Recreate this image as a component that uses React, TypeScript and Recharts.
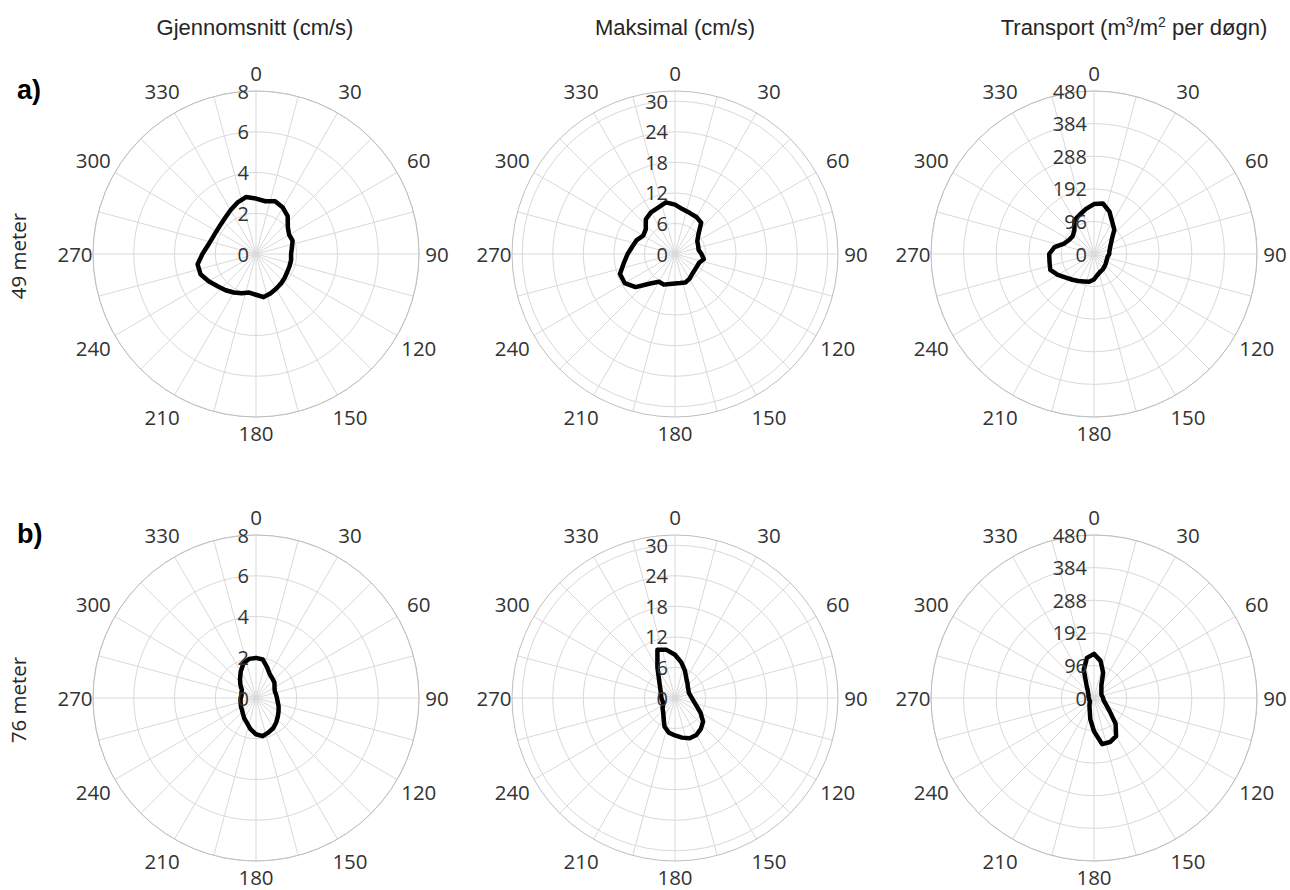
import { PolarAngleAxis, PolarGrid, PolarRadiusAxis, Radar, RadarChart } from "recharts";

// bearings (deg clockwise from north) the roses were read at
const DIRECTIONS = [
  0, 10, 20, 30, 40, 50, 60, 70, 80, 90, 100, 110, 120, 130, 140, 150, 160, 170,
  180, 190, 200, 210, 220, 230, 240, 250, 260, 270, 280, 290, 300, 310, 320, 330, 340, 350,
];

// grid spokes every 15 deg, labels only every 30
const SPOKES = [0, 15, 30, 45, 60, 75, 90, 105, 120, 135, 150, 165, 180, 195, 210, 225, 240, 255, 270, 285, 300, 315, 330, 345];

// 49 meter
const AVG_49 = [
  2.72, 2.63, 2.75, 2.63, 2.42, 2.04, 1.88, 1.91, 1.79, 1.72, 1.75, 1.75, 1.77, 1.83, 1.9, 1.97, 2.06, 2.15,
  2.0, 1.92, 2.05, 2.18, 2.32, 2.46, 2.68, 2.9, 2.91, 2.63, 2.4, 2.28, 2.24, 2.26, 2.34, 2.49, 2.68, 2.84,
];
const MAX_49 = [
  9.7, 8.9, 8.55, 8.4, 8.0, 6.0, 5.05, 4.83, 4.7, 5.2, 5.75, 5.05, 4.95, 5.0, 5.2, 5.65, 5.95, 5.8,
  5.8, 6.0, 6.4, 6.3, 7.55, 10.1, 11.4, 11.5, 10.2, 9.3, 8.5, 8.0, 7.2, 7.5, 8.9, 9.45, 9.7, 10.3,
];
const TRANSPORT_49 = [
  147, 151, 133, 108, 93, 69, 57, 50, 46, 45, 41, 41, 42, 45, 48, 52, 55, 62,
  75, 83, 86, 92, 99, 108, 123, 137, 133, 132, 118, 92, 84, 82, 90, 115, 123, 135,
];

// 76 meter
const AVG_76 = [
  1.97, 1.92, 1.6, 1.35, 1.25, 1.18, 1.05, 0.98, 1.0, 1.03, 1.08, 1.18, 1.28, 1.4, 1.55, 1.7, 1.8, 1.9,
  1.78, 1.55, 1.3, 1.15, 1.0, 0.9, 0.85, 0.8, 0.77, 0.75, 0.72, 0.76, 0.8, 1.0, 1.22, 1.5, 1.8, 1.95,
];
const MAX_76 = [
  8.5, 7.1, 5.7, 4.45, 3.8, 3.3, 3.05, 2.9, 3.05, 3.3, 3.75, 4.5, 5.8, 7.2, 7.9, 8.4, 8.4, 7.9,
  7.35, 6.9, 6.0, 4.5, 3.6, 3.2, 2.7, 2.5, 2.55, 2.67, 2.77, 2.97, 3.3, 3.9, 4.9, 6.9, 10.1, 9.6,
];
const TRANSPORT_76 = [
  130, 111, 79, 43.5, 34, 28.4, 25, 24, 25, 27, 28, 33, 42, 60, 99, 130, 138, 138,
  98, 63, 37, 27, 20, 15.4, 15, 15, 15, 15, 16, 17.5, 18.7, 23, 28.4, 44.3, 88, 120,
];

const AVG_TICKS = [0, 2, 4, 6, 8];
const MAX_TICKS = [0, 6, 12, 18, 24, 30];
const TRANSPORT_TICKS = [0, 96, 192, 288, 384, 480];
const AVG_MAX = 8;
const MAX_MAX = 31.7;
const TRANSPORT_MAX = 480;

const ROWS = [
  { tag: "a)", depth: "49 meter", series: [AVG_49, MAX_49, TRANSPORT_49] },
  { tag: "b)", depth: "76 meter", series: [AVG_76, MAX_76, TRANSPORT_76] },
];
const COLUMNS = [
  { ticks: AVG_TICKS, max: AVG_MAX },
  { ticks: MAX_TICKS, max: MAX_MAX },
  { ticks: TRANSPORT_TICKS, max: TRANSPORT_MAX },
];

const W = 420;
const H = 440;
const CX = 210;
const CY = 220;
const R = 163;
const TICK_GAP = 10;
const COL_X = [255.5, 674.5, 1093.5];
const ROW_Y = [253.5, 698];

const NUM_FONT = "'Open Sans', 'DejaVu Sans', sans-serif";
const TITLE_FONT = "'Liberation Sans', Arial, sans-serif";
const GRID = "#d9d9d9";
const OUTER = "#bfbfbf";
const TEXT = "#333";

function AngleTick(props: any) {
  const { x, y, payload } = props;
  const deg = Number(payload.value);
  if (deg % 30 !== 0) return <g />;
  const rad = (deg * Math.PI) / 180;
  const ux = Math.sin(rad);
  const uy = -Math.cos(rad);
  // back out the centre from the tick point, then push diagonal labels out a bit
  const cx = x - ux * (R + TICK_GAP);
  const cy = y - uy * (R + TICK_GAP);
  const d = 181 + 8 * Math.abs(Math.sin(2 * rad)) - (deg === 180 ? 2 : 0);
  return (
    <text
      x={cx + ux * d}
      y={cy + uy * d}
      textAnchor="middle"
      dominantBaseline="central"
      fontFamily={NUM_FONT}
      fontSize={20.5}
      fill={TEXT}
    >
      {deg}
    </text>
  );
}

function RadiusTick(props: any) {
  const { x, y, payload } = props;
  return (
    <text x={x - 7} y={y} textAnchor="end" dominantBaseline="central" fontFamily={NUM_FONT} fontSize={20} fill={TEXT}>
      {payload.value}
    </text>
  );
}

function Rose({ values, ticks, max }: { values: number[]; ticks: number[]; max: number }) {
  const data = DIRECTIONS.map((dir, i) => ({ dir, v: values[i] }));
  return (
    <RadarChart width={W} height={H} cx={CX} cy={CY} outerRadius={R} data={data} margin={{ top: 0, right: 0, bottom: 0, left: 0 }}>
      <PolarGrid gridType="circle" stroke={GRID} polarAngles={SPOKES.map((b) => 90 - b)} />
      <PolarAngleAxis
        dataKey="dir"
        tick={(p: any) => <AngleTick {...p} />}
        tickLine={false}
        tickSize={TICK_GAP}
        axisLine={{ stroke: OUTER }}
        axisLineType="circle"
      />
      <PolarRadiusAxis
        angle={90}
        type="number"
        domain={[0, max]}
        ticks={ticks}
        tick={(p: any) => <RadiusTick {...p} />}
        axisLine={false}
        tickLine={false}
      />
      <Radar
        dataKey="v"
        stroke="#000"
        strokeWidth={4.5}
        strokeLinejoin="round"
        fill="none"
        fillOpacity={0}
        dot={false}
        isAnimationActive={false}
      />
    </RadarChart>
  );
}

const titleStyle = (x: number): React.CSSProperties => ({
  position: "absolute",
  left: x,
  top: 28,
  transform: "translate(-50%, -50%)",
  whiteSpace: "nowrap",
  fontFamily: TITLE_FONT,
  fontSize: 22,
  lineHeight: 1,
  color: "#262626",
});
const SUP: React.CSSProperties = { fontSize: 14, verticalAlign: "super", lineHeight: 0 };

export default function App() {
  return (
    <div style={{ position: "absolute", left: 0, top: 0, width: 1290, height: 890, background: "#fff", overflow: "hidden" }}>
      <div style={titleStyle(255)}>Gjennomsnitt (cm/s)</div>
      <div style={titleStyle(675)}>Maksimal (cm/s)</div>
      <div style={titleStyle(1134)}>
        Transport (m<sup style={SUP}>3</sup>/m<sup style={SUP}>2</sup> per døgn)
      </div>

      {ROWS.map((row, r) => (
        <div key={row.tag}>
          <div
            style={{
              position: "absolute",
              left: 17,
              top: ROW_Y[r] - 164,
              transform: "translateY(-50%)",
              fontFamily: TITLE_FONT,
              fontWeight: 700,
              fontSize: 27,
              lineHeight: 1,
              color: "#000",
            }}
          >
            {row.tag}
          </div>
          <div
            style={{
              position: "absolute",
              left: 18,
              top: ROW_Y[r] + 2,
              transform: "translate(-50%, -50%) rotate(-90deg)",
              whiteSpace: "nowrap",
              fontFamily: NUM_FONT,
              fontSize: 20.5,
              lineHeight: 1,
              color: "#262626",
            }}
          >
            {row.depth}
          </div>
          {COLUMNS.map((col, c) => (
            <div key={c} style={{ position: "absolute", left: COL_X[c] - CX, top: ROW_Y[r] - CY, width: W, height: H }}>
              <Rose values={row.series[c]} ticks={col.ticks} max={col.max} />
            </div>
          ))}
        </div>
      ))}
    </div>
  );
}
